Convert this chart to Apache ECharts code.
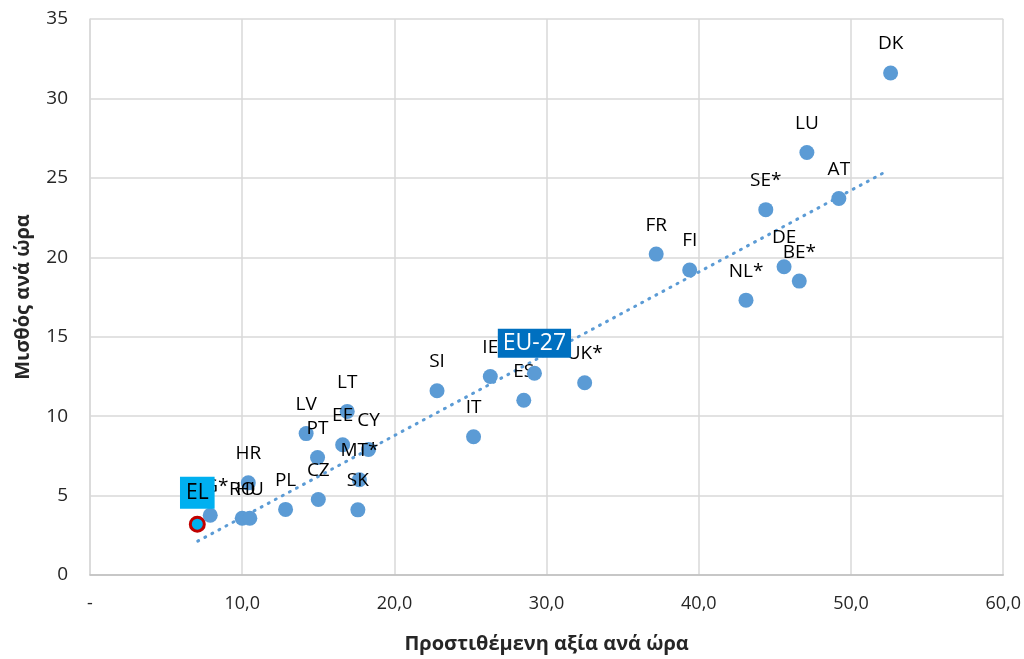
<!DOCTYPE html>
<html><head><meta charset="utf-8">
<script src="https://cdn.jsdelivr.net/npm/echarts@6/dist/echarts.min.js"></script>
<style>html,body{margin:0;padding:0;background:#fff}#c{width:1024px;height:659px}</style>
</head><body><div id="c"></div>
<script>
const countries = ['DK','LU','AT','SE*','DE','BE*','NL*','FR','FI','UK*','ES','IE','SI','IT','LT','LV','EE','CY','PT','MT*','CZ','SK','PL','HR','RO','HU','BG*'];
const valueAdded = [52.6,47.1,49.2,44.4,45.6,46.6,43.1,37.2,39.4,32.5,28.5,26.3,22.8,25.2,16.9,14.2,16.6,18.3,14.95,17.7,15.0,17.6,12.85,10.4,10.0,10.5,7.9];
const wage = [31.6,26.6,23.7,23.0,19.4,18.5,17.3,20.2,19.2,12.1,11.0,12.5,11.6,8.7,10.3,8.9,8.2,7.9,7.4,6.0,4.75,4.1,4.13,5.8,3.57,3.57,3.76];
const euLabel = ['EU-27'], euX = [29.2], euY = [12.7];
const elLabel = ['EL'], elX = [7.05], elY = [3.2];
const trendX = [7.08, 52.3], trendY = [2.13, 25.4];
const xTickLabels = ['-','10,0','20,0','30,0','40,0','50,0','60,0'];
const yTickLabels = ['0','5','10','15','20','25','30','35'];

const font = '"Open Sans", "Noto Sans", sans-serif';
const chart = echarts.init(document.getElementById('c'), null, {renderer:'canvas'});
chart.setOption({
  animation:false,
  grid:{left:90, right:19, top:19, bottom:82, containLabel:false},
  xAxis:{type:'value', min:0, max:60, interval:10,
    name:'Προστιθέμενη αξία ανά ώρα', nameLocation:'middle', nameGap:59,
    nameTextStyle:{fontFamily:font, fontWeight:'bold', fontSize:20, color:'#262626'},
    axisLine:{show:true, lineStyle:{color:'#BFBFBF', width:1.5}}, axisTick:{show:false},
    axisLabel:{fontFamily:font, fontSize:18, color:'#262626', margin:20,
      formatter:v=>xTickLabels[Math.round(v/10)]},
    splitLine:{show:true, lineStyle:{color:'#D9D9D9', width:1.5}}},
  yAxis:{type:'value', min:0, max:35, interval:5,
    name:'Μισθός ανά ώρα', nameLocation:'middle', nameGap:57, nameRotate:90,
    nameTextStyle:{fontFamily:font, fontWeight:'bold', fontSize:20, color:'#262626'},
    axisLine:{show:true, lineStyle:{color:'#D9D9D9', width:1.5}}, axisTick:{show:false},
    axisLabel:{fontFamily:font, fontSize:19, color:'#262626', margin:22,
      formatter:v=>yTickLabels[Math.round(v/5)]},
    splitLine:{show:true, lineStyle:{color:'#D9D9D9', width:1.5}}},
  series:[
    {type:'line', data:trendX.map((x,i)=>[x,trendY[i]]), symbol:'none', z:2,
      lineStyle:{color:'#5B9BD5', width:3, type:[1,7], cap:'round'}},
    {type:'scatter', z:3, symbolSize:15, itemStyle:{color:'#5B9BD5', opacity:1},
      data:valueAdded.map((x,i)=>({value:[x,wage[i]], name:countries[i]})),
      label:{show:true, position:'top', distance:12, formatter:p=>p.name,
        fontFamily:font, fontSize:19, color:'#000'}},
    {type:'scatter', z:4, symbolSize:15, itemStyle:{color:'#5B9BD5', opacity:1},
      data:euX.map((x,i)=>({value:[x,euY[i]], name:euLabel[i]})),
      label:{show:true, position:'top', distance:8, formatter:p=>p.name,
        fontFamily:font, fontSize:23, color:'#fff', backgroundColor:'#0070C0',
        padding:[3,5,3,5]}},
    {type:'scatter', z:5, symbolSize:14,
      itemStyle:{color:'#00B0F0', borderColor:'#C00000', borderWidth:3, opacity:1},
      data:elX.map((x,i)=>({value:[x,elY[i]], name:elLabel[i]})),
      label:{show:true, position:'top', distance:7, formatter:p=>p.name,
        fontFamily:font, fontSize:21, color:'#000', backgroundColor:'#00B0F0',
        padding:[6,6,5,6]}}
  ]
});
</script></body></html>
